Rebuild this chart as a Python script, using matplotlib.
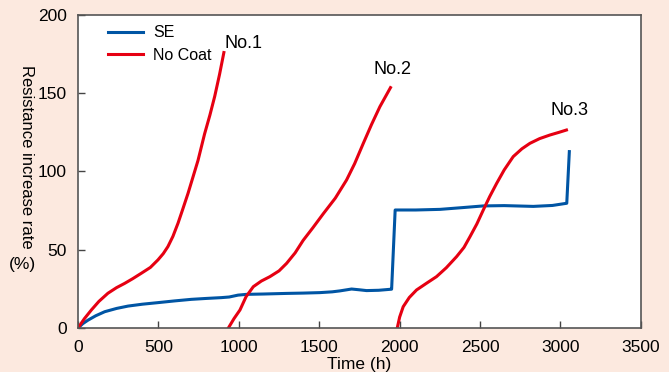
import matplotlib
matplotlib.use("Agg")
import matplotlib.pyplot as plt

plt.rcParams['font.family'] = ['Liberation Sans', 'DejaVu Sans']

# SE coated sample
se_time = [0, 30, 62, 110, 166, 240, 311, 400, 497, 600, 704, 800, 891, 940, 995,
           1049, 1150, 1297, 1400, 1504, 1580, 1628, 1701, 1750, 1794, 1870, 1939,
           1950, 1972, 2100, 2251, 2400, 2520, 2650, 2831, 2950, 3039, 3055]
se_rate = [0, 2.8, 5, 7.8, 10.4, 12.5, 14, 15.2, 16.2, 17.3, 18.3, 18.9, 19.4, 19.8, 21,
           21.5, 21.7, 22.1, 22.3, 22.6, 23.1, 23.7, 24.9, 24.4, 23.9, 24.1, 24.7,
           24.8, 75.4, 75.4, 75.8, 77, 78, 78.2, 77.7, 78.3, 79.7, 112.7]

# uncoated samples No.1 - No.3
no1_time = [0, 40, 83, 130, 186, 240, 290, 340, 394, 450, 497, 530, 559, 590, 622,
            650, 684, 715, 746, 787, 820, 850, 880, 907]
no1_rate = [0, 6, 11.5, 17, 22.2, 25.8, 28.5, 31.5, 35, 38.7, 43.5, 47.5, 52, 58.5, 67,
            75.5, 86, 96.5, 107, 124, 136, 148, 162, 176]

no2_time = [935, 970, 1007, 1045, 1090, 1140, 1193, 1250, 1297, 1350, 1400, 1460,
            1525, 1600, 1670, 1720, 1774, 1825, 1877, 1943]
no2_rate = [0, 6, 11.5, 20, 26.4, 30, 32.8, 36.5, 41.3, 48, 56, 64,
            73, 83, 94.6, 105, 118, 130, 141.4, 153.6]

no3_time = [1985, 2000, 2022, 2060, 2105, 2170, 2229, 2290, 2354, 2400, 2437, 2480,
            2520, 2560, 2603, 2650, 2706, 2760, 2810, 2870, 2934, 2990, 3037]
no3_rate = [0, 7, 13.6, 19.5, 24.3, 28.8, 32.8, 38.5, 45.6, 51.5, 58.3, 66.5,
            75.4, 84, 92.4, 101, 109.5, 114.5, 118, 121, 123.3, 125, 126.5]

curve_labels = ["No.1", "No.2", "No.3"]
label_pos = [(1026, 182), (1958, 165), (3059, 139)]

blue = '#0055a4'
red = '#e60012'
bg = '#fce9df'

fig = plt.figure(figsize=(6.69, 3.72), dpi=100, facecolor=bg)
ax = fig.add_axes([0.1166, 0.1183, 0.8414, 0.8414])
ax.set_facecolor('white')

ax.plot(se_time, se_rate, color=blue, lw=2.2, label='SE')
ax.plot(no1_time, no1_rate, color=red, lw=2.2, label='No Coat')
ax.plot(no2_time, no2_rate, color=red, lw=2.2)
ax.plot(no3_time, no3_rate, color=red, lw=2.2)

for txt, (x, y) in zip(curve_labels, label_pos):
    ax.text(x, y, txt, fontsize=13, ha='center', va='center')

ax.set_xlim(0, 3500)
ax.set_ylim(0, 200)
ax.set_xticks(range(0, 3501, 500))
ax.set_yticks(range(0, 201, 50))
ax.tick_params(direction='in', length=5, width=1, color='#444444',
               labelsize=12.5, pad=8)
ax.tick_params(axis='x', pad=9)
for s in ax.spines.values():
    s.set_color('#555555')
    s.set_linewidth(1.2)

# axis titles placed by hand to match the original layout
fig.text(359 / 669, 1 - 365 / 372, 'Time (h)', fontsize=12.5, ha='center', va='center')
fig.text(26 / 669, 1 - 157 / 372, 'Resistance increase rate', rotation=-90,
         fontsize=12, ha='center', va='center')
fig.text(22 / 669, 1 - 265 / 372, '(%)', fontsize=12.5, ha='center', va='center')

ax.legend(loc='upper left', bbox_to_anchor=(0.035, 1.0), frameon=False,
          fontsize=11.5, handlelength=2.2, labelspacing=0.45, borderaxespad=0.25,
          handletextpad=0.6)

fig.savefig('out.png', dpi=100, facecolor=bg)
